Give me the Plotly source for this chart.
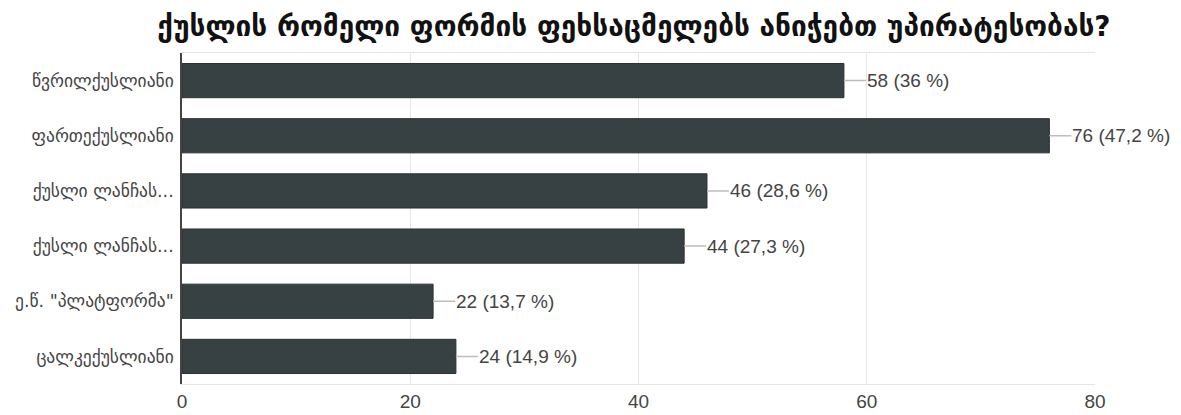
import plotly.graph_objects as go

title = "ქუსლის რომელი ფორმის ფეხსაცმელებს ანიჭებთ უპირატესობას?"
categories = ["წვრილქუსლიანი", "ფართექუსლიანი", "ქუსლი ლანჩას...", "ქუსლი ლანჩას...",
              "ე.წ. \"პლატფორმა\"", "ცალკექუსლიანი"]
values = [58, 76, 46, 44, 22, 24]
percents = ["36", "47,2", "28,6", "27,3", "13,7", "14,9"]
tick_vals = [0, 20, 40, 60, 80]

ypos = list(range(len(categories)))

fig = go.Figure()
fig.add_trace(go.Bar(
    x=values, y=ypos, orientation="h",
    marker=dict(color="#374042", line=dict(color="#2a3133", width=1)),
    width=0.62, hoverinfo="skip",
))

for v, p, yy in zip(values, percents, ypos):
    fig.add_annotation(
        x=v, y=yy, xref="x", yref="y",
        text=f"{v} ({p} %)", showarrow=True, arrowhead=0, arrowwidth=1.5,
        arrowcolor="#bdbdbd", ax=22, ay=0, xanchor="left",
        font=dict(family="Liberation Sans, Arial, sans-serif", size=19, color="#444"),
        standoff=0, startstandoff=0, borderpad=0,
    )

fig.update_layout(
    width=1181, height=415,
    margin=dict(l=174, r=94, t=45, b=39, autoexpand=False),
    paper_bgcolor="white", plot_bgcolor="white",
    showlegend=False,
    title=dict(text=f"<b>{title}</b>", x=0.530, xanchor="center", y=0.955, yanchor="middle",
               font=dict(family="DejaVu Sans", size=28, color="#111")),
    xaxis=dict(range=[0, 80], tickvals=tick_vals, showgrid=True, gridcolor="#e6e6e6", gridwidth=1,
               zeroline=False, showline=True, linecolor="#e6e6e6", mirror=True,
               tickfont=dict(family="Liberation Sans, Arial, sans-serif", size=19, color="#444"),
               ticks="", ticklen=0, automargin=False),
    yaxis=dict(tickvals=ypos, ticktext=categories, autorange="reversed",
               showgrid=False, zeroline=False, showline=True, linecolor="#444", linewidth=1.5,
               tickfont=dict(family="DejaVu Sans", size=17.5, color="#444"), ticks="",
               ticklabelstandoff=3, automargin=False),
)

fig.write_html("out.html")
